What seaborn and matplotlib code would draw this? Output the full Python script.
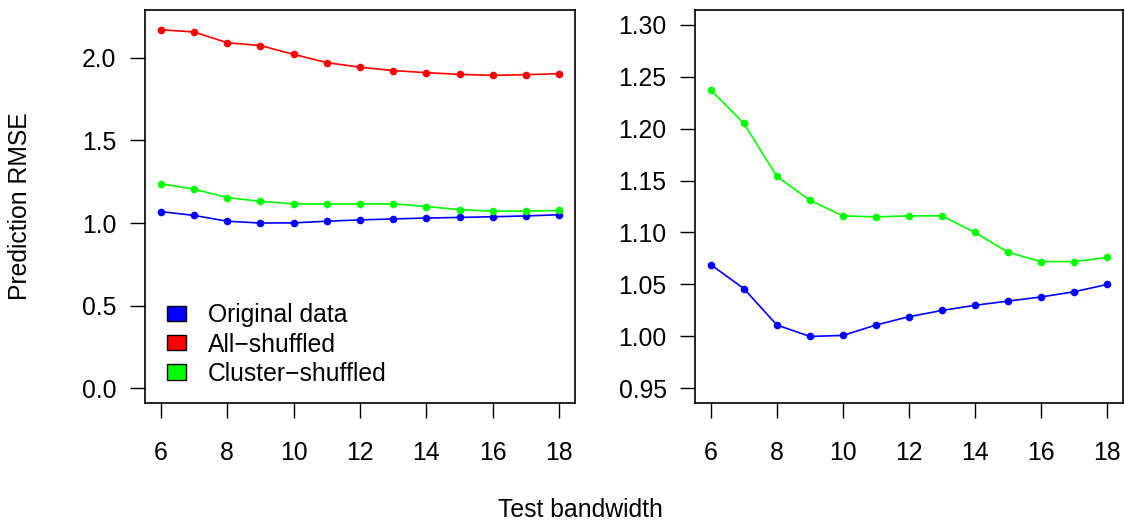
import numpy as np
import pandas as pd
import matplotlib
matplotlib.use("Agg")
import matplotlib.pyplot as plt
from matplotlib.patches import Patch
import seaborn as sns

bandwidth = [6, 7, 8, 9, 10, 11, 12, 13, 14, 15, 16, 17, 18]
original = [1.069, 1.046, 1.011, 1.000, 1.001, 1.011, 1.019, 1.025, 1.030, 1.034, 1.038, 1.043, 1.050]
all_shuffled = [2.169, 2.155, 2.090, 2.073, 2.020, 1.970, 1.942, 1.922, 1.909, 1.899, 1.893, 1.897, 1.903]
cluster_shuffled = [1.237, 1.205, 1.154, 1.131, 1.116, 1.115, 1.116, 1.116, 1.100, 1.081, 1.072, 1.072, 1.076]

series_names = ["Original data", "All\u2212shuffled", "Cluster\u2212shuffled"]
colors = {"Original data": "#0000FF", "All\u2212shuffled": "#FF0000", "Cluster\u2212shuffled": "#00FF00"}

df = pd.DataFrame({
    "bandwidth": bandwidth * 3,
    "rmse": original + all_shuffled + cluster_shuffled,
    "series": [series_names[0]] * len(bandwidth) + [series_names[1]] * len(bandwidth) + [series_names[2]] * len(bandwidth),
})

sns.set_style("white")
plt.rcParams["font.family"] = ["Liberation Sans", "DejaVu Sans"]
plt.rcParams["text.color"] = "black"
plt.rcParams["axes.labelcolor"] = "black"
plt.rcParams["xtick.color"] = "black"
plt.rcParams["ytick.color"] = "black"
FS = 17.8

fig = plt.figure(figsize=(11.24, 5.21), dpi=100)
ax1 = fig.add_axes([145 / 1124, 118 / 521, 430 / 1124, 393 / 521])
ax2 = fig.add_axes([695 / 1124, 118 / 521, 428 / 1124, 393 / 521])

sns.lineplot(data=df, x="bandwidth", y="rmse", hue="series", palette=colors,
             hue_order=series_names, marker="o", markersize=5.5, markeredgewidth=0,
             linewidth=1.2, legend=False, ax=ax1, estimator=None)
df2 = df[df["series"] != series_names[1]]
sns.lineplot(data=df2, x="bandwidth", y="rmse", hue="series", palette=colors,
             hue_order=[series_names[0], series_names[2]], marker="o", markersize=5.5,
             markeredgewidth=0, linewidth=1.2, legend=False, ax=ax2, estimator=None)

def style(ax, ylo, yhi, yticks, fmt):
    ax.set_xlim(6 - 0.48, 18 + 0.48)
    r = yhi - ylo
    ax.set_ylim(ylo - 0.04 * r, yhi + 0.04 * r)
    ax.set_xticks([6, 8, 10, 12, 14, 16, 18])
    ax.set_yticks(yticks)
    ax.set_yticklabels([fmt.format(v) for v in yticks])
    ax.set_xlabel("")
    ax.set_ylabel("")
    for s in ax.spines.values():
        s.set_visible(True)
        s.set_color("black")
        s.set_linewidth(1.2)
    ax.tick_params(axis="both", direction="out", length=10.5, width=1.0, colors="black",
                   labelcolor="black", labelsize=FS, left=True, bottom=True)
    ax.tick_params(axis="x", pad=17)
    ax.tick_params(axis="y", pad=10)
    ax.grid(False)

style(ax1, 0.0, 2.2, [0.0, 0.5, 1.0, 1.5, 2.0], "{:.1f}")
style(ax2, 0.95, 1.30, [0.95, 1.00, 1.05, 1.10, 1.15, 1.20, 1.25, 1.30], "{:.2f}")

handles = [Patch(facecolor=colors[n], edgecolor="black", linewidth=1.0, label=n) for n in series_names]
leg = ax1.legend(handles=handles, loc="lower left", bbox_to_anchor=(0.011, 0.0), frameon=False,
                 fontsize=FS, handlelength=0.77, handleheight=0.57, handletextpad=0.89,
                 labelspacing=0.21, borderaxespad=0.3)
for t in leg.get_texts():
    t.set_color("black")

fig.text(20 / 1124, 1 - 206 / 521, "Prediction RMSE", rotation=90, ha="center", va="center",
         fontsize=FS, color="black")
fig.text(580 / 1124, 1 - 510 / 521, "Test bandwidth", ha="center", va="center",
         fontsize=FS, color="black")

fig.savefig("out.png", dpi=100)
